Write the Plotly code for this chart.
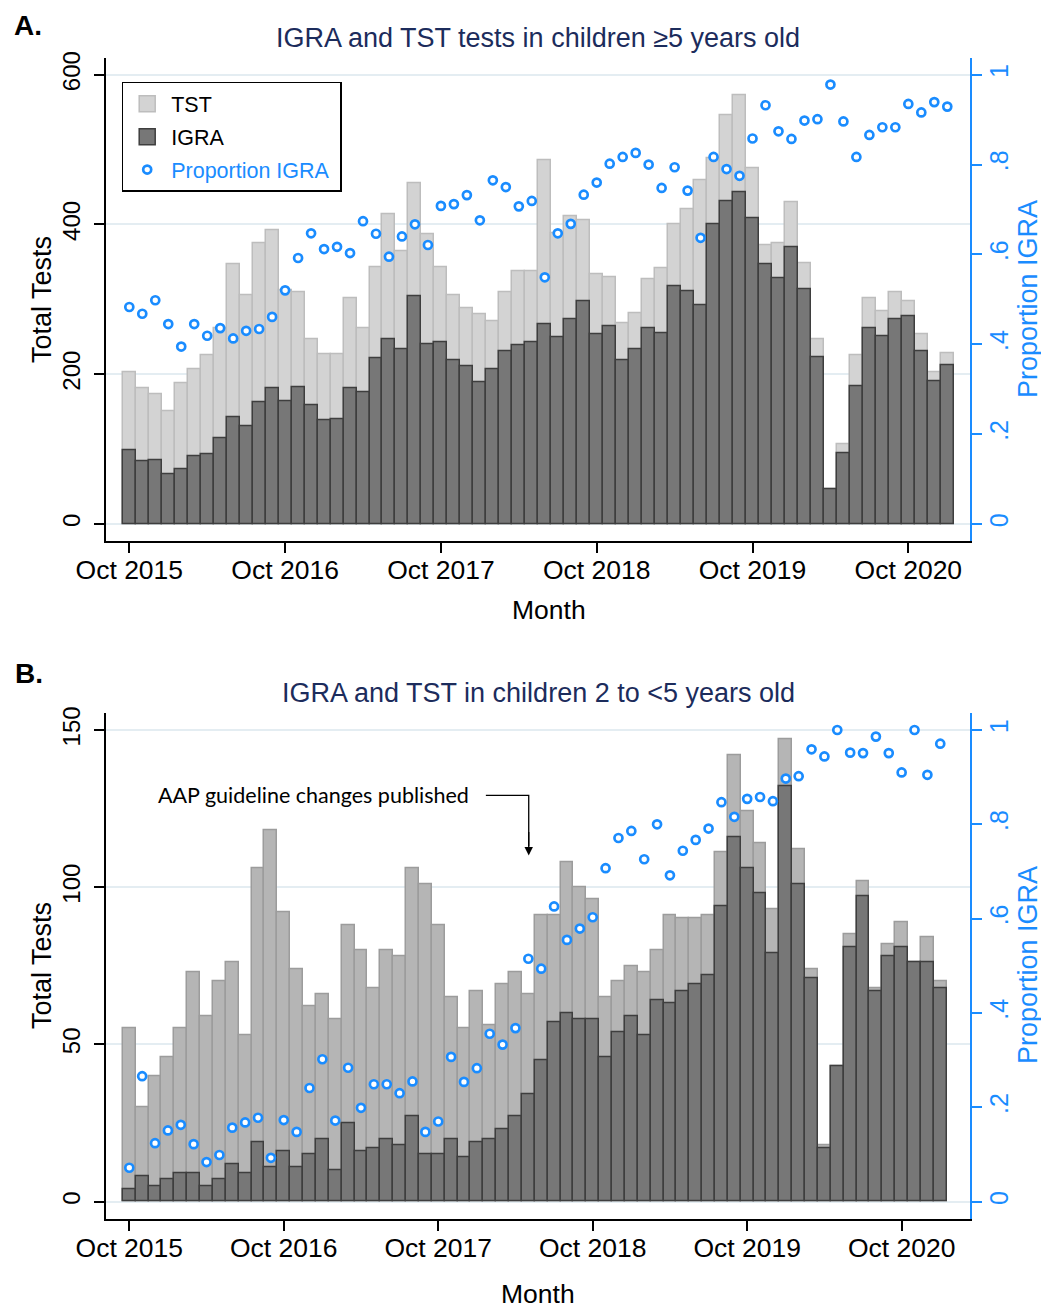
import plotly.graph_objects as go

# ---------------- data ----------------
months = list(range(64))  # month index, 0 = Oct 2015 ... 63 = Jan 2021
tick_vals = [0, 12, 24, 36, 48, 60]
tick_labels = ["Oct 2015", "Oct 2016", "Oct 2017", "Oct 2018", "Oct 2019", "Oct 2020"]

# Panel A: children >=5 years old
total_A = [202, 181, 173, 151, 188, 206, 225, 262, 347, 305,
           375, 392, 312, 309, 246, 227, 227, 302, 261, 343,
           414, 364, 455, 387, 343, 306, 288, 280, 271, 309,
           338, 338, 486, 388, 411, 406, 334, 329, 268, 282,
           327, 341, 400, 420, 459, 489, 546, 572, 475, 372,
           375, 430, 348, 246, 47, 106, 225, 301, 284, 310,
           297, 253, 202, 228]
igra_A = [98, 84, 85, 66, 73, 91, 93, 114, 142, 131,
          163, 181, 164, 182, 158, 139, 140, 181, 176, 221,
          246, 233, 304, 240, 243, 218, 210, 189, 206, 231,
          239, 243, 267, 249, 274, 298, 254, 264, 219, 233,
          262, 255, 317, 311, 292, 400, 431, 443, 408, 347,
          328, 369, 313, 222, 46, 94, 184, 261, 251, 274,
          277, 231, 190, 212]
prop_A = [0.483, 0.468, 0.498, 0.445, 0.395, 0.445, 0.419, 0.436, 0.413, 0.430,
          0.434, 0.461, 0.520, 0.592, 0.647, 0.612, 0.617, 0.603, 0.674, 0.646,
          0.595, 0.640, 0.667, 0.621, 0.708, 0.712, 0.732, 0.676, 0.765, 0.750,
          0.707, 0.719, 0.549, 0.647, 0.668, 0.733, 0.760, 0.802, 0.817, 0.826,
          0.800, 0.748, 0.794, 0.742, 0.637, 0.817, 0.790, 0.775, 0.858, 0.932,
          0.874, 0.857, 0.898, 0.901, 0.978, 0.896, 0.817, 0.866, 0.883, 0.883,
          0.935, 0.916, 0.939, 0.929]

# Panel B: children 2 to <5 years old
total_B = [55, 30, 40, 46, 55, 73, 59, 70, 76, 53,
           106, 118, 92, 74, 62, 66, 58, 88, 80, 68,
           80, 78, 106, 101, 88, 65, 55, 67, 56, 69,
           73, 66, 91, 91, 108, 100, 96, 65, 70, 75,
           73, 80, 91, 90, 90, 91, 111, 142, 124, 114,
           93, 147, 112, 74, 18, 43, 85, 102, 68, 82,
           89, 76, 84, 70]
igra_B = [4, 8, 5, 7, 9, 9, 5, 7, 12, 9,
          19, 11, 16, 11, 15, 20, 10, 25, 16, 17,
          20, 18, 27, 15, 15, 20, 14, 19, 20, 23,
          27, 34, 45, 57, 60, 58, 58, 46, 54, 59,
          53, 64, 63, 67, 69, 72, 94, 116, 106, 98,
          79, 132, 101, 71, 17, 43, 81, 97, 67, 78,
          81, 76, 76, 68]
prop_B = [0.072, 0.266, 0.124, 0.151, 0.163, 0.122, 0.084, 0.099, 0.157, 0.168,
          0.178, 0.093, 0.173, 0.148, 0.241, 0.302, 0.172, 0.284, 0.199, 0.249,
          0.249, 0.230, 0.255, 0.148, 0.170, 0.307, 0.254, 0.283, 0.356, 0.333,
          0.368, 0.515, 0.494, 0.626, 0.555, 0.579, 0.603, 0.707, 0.771, 0.786,
          0.726, 0.800, 0.692, 0.744, 0.767, 0.791, 0.847, 0.816, 0.854, 0.858,
          0.849, 0.897, 0.902, 0.959, 0.944, 1.000, 0.952, 0.951, 0.986, 0.951,
          0.910, 1.000, 0.905, 0.971]

left_ticks_A = [0, 200, 400, 600]
left_ticks_B = [0, 50, 100, 150]
right_tick_vals = [0, 0.2, 0.4, 0.6, 0.8, 1]
right_tick_text = ["0", ".2", ".4", ".6", ".8", "1"]

# ---------------- style ----------------
FONT = "Liberation Sans, Arial, Helvetica, sans-serif"
BLUE = "#1a8cff"
NAVY = "#1c2c5c"
LIGHT_A, LIGHT_A_LINE = "#d3d3d3", "#bdbdbd"
LIGHT_B, LIGHT_B_LINE = "#b5b5b5", "#9c9c9c"
DARK, DARK_LINE = "#777777", "#3e3e3e"
GRID = "#e4edf2"

# the page body has an 8px margin, so the figure is drawn 8px smaller and all
# page-pixel positions below are shifted by that offset
OFF = 8
W, H = 1049 - OFF, 1309 - OFF
def px_x(p):
    return (p - OFF) / W
def px_y(p):
    return 1 - (p - OFF) / H

fig = go.Figure()

# Panel A
fig.add_trace(go.Bar(x=months, y=total_A, name="TST", xaxis="x", yaxis="y",
                     marker=dict(color=LIGHT_A, line=dict(color=LIGHT_A_LINE, width=1.5)),
                     width=1, showlegend=False, legendgroup="tst"))
fig.add_trace(go.Bar(x=months, y=igra_A, name="IGRA", xaxis="x", yaxis="y",
                     marker=dict(color=DARK, line=dict(color=DARK_LINE, width=1.5)),
                     width=1, showlegend=False, legendgroup="igra"))
fig.add_trace(go.Scatter(x=months, y=prop_A, mode="markers", xaxis="x", yaxis="y2",
                         name="Proportion IGRA", showlegend=False, legendgroup="prop",
                         marker=dict(symbol="circle", size=8, color="white",
                                     line=dict(color=BLUE, width=2.7))))

# legend entries (larger swatches than the bar default)
fig.add_trace(go.Scatter(x=[None], y=[None], mode="markers", xaxis="x", yaxis="y",
                         name="TST", legendgroup="tst",
                         marker=dict(symbol="square", size=16, color=LIGHT_A,
                                     line=dict(color=LIGHT_A_LINE, width=1.5))))
fig.add_trace(go.Scatter(x=[None], y=[None], mode="markers", xaxis="x", yaxis="y",
                         name="IGRA", legendgroup="igra",
                         marker=dict(symbol="square", size=16, color=DARK,
                                     line=dict(color=DARK_LINE, width=1.5))))
fig.add_trace(go.Scatter(x=[None], y=[None], mode="markers", xaxis="x", yaxis="y2",
                         name='<span style="color:%s">Proportion IGRA</span>&nbsp;' % BLUE,
                         legendgroup="prop",
                         marker=dict(symbol="circle", size=8, color="white",
                                     line=dict(color=BLUE, width=2.7))))

# Panel B
fig.add_trace(go.Bar(x=months, y=total_B, name="TST", xaxis="x2", yaxis="y3",
                     marker=dict(color=LIGHT_B, line=dict(color=LIGHT_B_LINE, width=1.5)),
                     width=1, showlegend=False))
fig.add_trace(go.Bar(x=months, y=igra_B, name="IGRA", xaxis="x2", yaxis="y3",
                     marker=dict(color=DARK, line=dict(color=DARK_LINE, width=1.5)),
                     width=1, showlegend=False))
fig.add_trace(go.Scatter(x=months, y=prop_B, mode="markers", xaxis="x2", yaxis="y4",
                         name="Proportion IGRA", showlegend=False,
                         marker=dict(symbol="circle", size=8, color="white",
                                     line=dict(color=BLUE, width=2.7))))

xdom = [px_x(106), px_x(970)]
common_x = dict(tickvals=tick_vals, ticktext=tick_labels, ticks="outside", ticklen=10,
                tickwidth=1.5, tickcolor="black", showline=True, linecolor="black",
                linewidth=1.5, showgrid=False, zeroline=False, automargin=False,
                ticklabelstandoff=-6,
                tickfont=dict(family=FONT, size=26.5, color="black"))
common_yl = dict(ticks="outside", ticklen=10, tickwidth=1.5, tickcolor="black",
                 showline=True, linecolor="black", linewidth=1.5, showgrid=True,
                 gridcolor=GRID, gridwidth=1.5, zeroline=False, tickangle=-90,
                 automargin=False, ticklabelstandoff=5,
                 tickfont=dict(family=FONT, size=24, color="black"))
common_yr = dict(side="right", tickvals=right_tick_vals, ticktext=right_tick_text,
                 ticks="outside", ticklen=10, tickwidth=1.5, tickcolor=BLUE,
                 showline=True, linecolor=BLUE, linewidth=1.5, showgrid=False,
                 zeroline=False, tickangle=-90, automargin=False,
                 ticklabelstandoff=-4,
                 tickfont=dict(family=FONT, size=25, color=BLUE))

fig.update_layout(
    width=W, height=H, autosize=False,
    margin=dict(l=0, r=0, t=0, b=0, pad=0, autoexpand=False),
    paper_bgcolor="white", plot_bgcolor="white",
    barmode="overlay", bargap=0,
    font=dict(family=FONT, color="black"),
    xaxis=dict(domain=xdom, anchor="y", range=[-1.795, 64.75], **common_x),
    yaxis=dict(domain=[px_y(541), px_y(58.3)], anchor="x", range=[-22.7, 621.9],
               tickvals=left_ticks_A, **common_yl),
    yaxis2=dict(overlaying="y", anchor="x", range=[-0.0378, 1.0365], **common_yr),
    xaxis2=dict(domain=xdom, anchor="y3", range=[-1.81, 65.31], **common_x),
    yaxis3=dict(domain=[px_y(1219), px_y(713.3)], anchor="x2", range=[-5.5, 155.3],
                tickvals=left_ticks_B, **common_yl),
    yaxis4=dict(overlaying="y3", anchor="x2", range=[-0.0367, 1.0354], **common_yr),
    legend=dict(x=px_x(121.7), y=px_y(81.7), xanchor="left", yanchor="top",
                bgcolor="white", bordercolor="black", borderwidth=1.5,
                font=dict(family=FONT, size=21.5, color="black"),
                itemwidth=38, traceorder="grouped", tracegroupgap=2),
)

ann = []
def txt(text, x, y, size, color="black", angle=0, bold=False, family=FONT,
        xanchor="center", yanchor="middle"):
    if bold:
        text = "<b>" + text + "</b>"
    ann.append(dict(text=text, x=px_x(x), y=px_y(y), xref="paper", yref="paper",
                    showarrow=False, textangle=angle, xanchor=xanchor, yanchor=yanchor,
                    font=dict(family=family, size=size, color=color)))

txt("A.", 12, 8, 28, bold=True, xanchor="left", yanchor="top")
txt("B.", 13, 673, 28, bold=True, xanchor="left")
txt("IGRA and TST tests in children ≥5 years old", 538, 38, 27, color=NAVY)
txt("IGRA and TST in children 2 to &lt;5 years old", 538, 693, 27, color=NAVY)
txt("Total Tests", 42, 300, 27, angle=-90)
txt("Total Tests", 42, 966, 27, angle=-90)
txt("Proportion IGRA", 1028, 299, 27, color=BLUE, angle=-90)
txt("Proportion IGRA", 1028, 965, 27, color=BLUE, angle=-90)
txt("Month", 549, 610, 26.5)
txt("Month", 538, 1294, 26.5)

# guideline annotation (panel B)
ann.append(dict(text="AAP guideline changes published", x=14.3, y=129.2,
                xref="x2", yref="y3", showarrow=False, xanchor="center", yanchor="middle",
                font=dict(family="Lato, Open Sans, sans-serif", size=21.5, color="black")))
ann.append(dict(text="", x=31.03, y=110.1, xref="x2", yref="y3",
                ax=31.03, ay=118, axref="x2", ayref="y3", showarrow=True,
                arrowhead=2, arrowsize=1.3, arrowwidth=1.3, arrowcolor="black",
                standoff=0, startstandoff=0))
fig.update_layout(annotations=ann)
fig.add_shape(type="path", path="M 27.7,129.2 L 31.03,129.2 L 31.03,113",
              xref="x2", yref="y3", line=dict(color="black", width=1.3))

fig.write_html("out.html")
